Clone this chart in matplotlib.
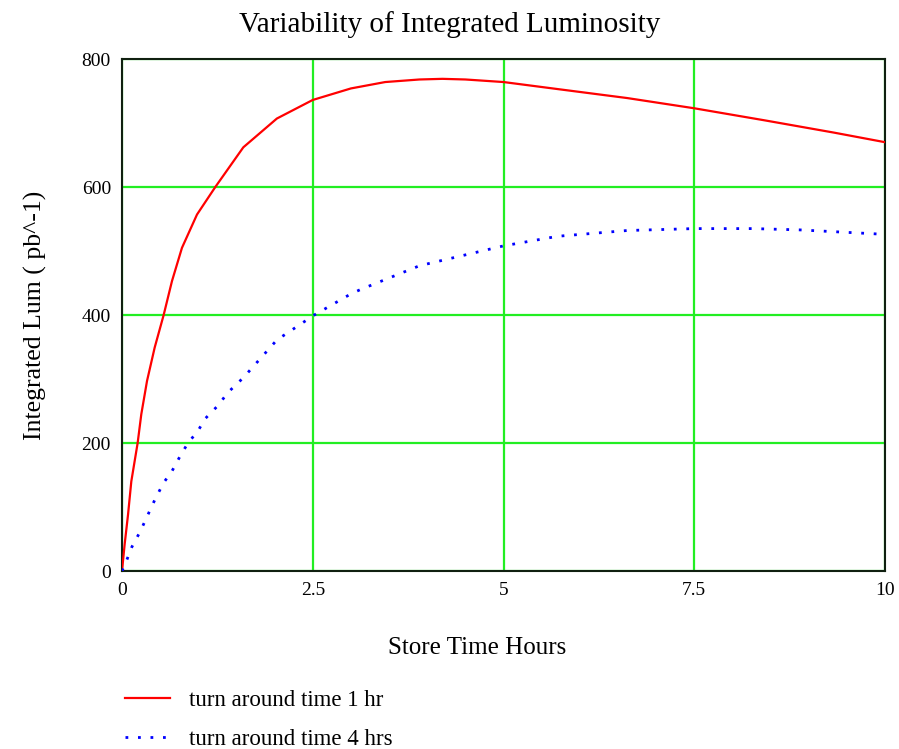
import matplotlib.pyplot as plt

# values
t_red = [0, 0.035, 0.079, 0.122, 0.205, 0.253, 0.328, 0.428, 0.546, 0.655, 0.786, 0.983, 1.223,
         1.59, 2.03, 2.5, 3.0, 3.45, 3.9, 4.2, 4.5, 5.0, 5.71, 6.62, 7.5, 8.43, 9.33, 10]
lum_red = [0, 42, 88, 140, 200, 245, 297, 349, 400, 453, 505, 557, 600,
           662, 707, 736, 754, 764, 768, 769, 768, 764, 753, 739, 723, 704, 685, 670]

t_blue = [0, 0.052, 0.131, 0.24, 0.34, 0.437, 0.546, 0.655, 0.764, 0.865, 0.996, 1.09, 1.27, 1.38,
          1.59, 2.03, 2.52, 3.0, 3.13, 3.9, 5.0, 5.71, 6.62, 7.5, 8.27, 8.88, 10]
lum_blue = [0, 14, 38, 62, 88, 113, 138, 156, 180, 200, 219, 238, 260, 278,
            302, 361, 400, 433, 440, 477, 508, 523, 532, 535, 535, 533, 526]

xticks = [0, 2.5, 5, 7.5, 10]
xticklabels = ['0', '2.5', '5', '7.5', '10']
yticks = [0, 200, 400, 600, 800]

plt.rcParams['font.family'] = ['Liberation Serif', 'DejaVu Serif']

fig = plt.figure(figsize=(8.99, 7.49), dpi=100)
ax = fig.add_axes([122/899, 1-571/749, 763/899, 512/749])

ax.plot(t_red, lum_red, color='red', lw=1.6, label='turn around time 1 hr', zorder=3)
ax.plot(t_blue, lum_blue, color='blue', lw=2, linestyle=(0, (1, 3.5)),
        label='turn around time 4 hrs', zorder=3)

ax.set_xlim(0, 10)
ax.set_ylim(0, 800)
ax.set_xticks(xticks)
ax.set_xticklabels(xticklabels)
ax.set_yticks(yticks)
ax.tick_params(length=0, labelsize=14, pad=8)
ax.grid(True, color='#22ee22', lw=1.6, zorder=1)
ax.set_axisbelow(True)
for s in ax.spines.values():
    s.set_color('#102010')
    s.set_linewidth(1.5)

fig.suptitle('Variability of Integrated Luminosity', x=0.5, y=1-11/749, va='top', fontsize=21)
ax.set_xlabel('Store Time Hours', fontsize=18)
ax.xaxis.set_label_coords((477-122)/763, -0.128)
ax.set_ylabel('Integrated Lum ( pb^-1)', fontsize=18.5)
ax.yaxis.set_label_coords(-0.098, 0.5)

fig.legend(loc='upper left', bbox_to_anchor=(118/899, 1-683/749), borderaxespad=0,
           frameon=False, fontsize=16.5, handlelength=1.95, handletextpad=0.85,
           labelspacing=0.78, borderpad=0.3)

fig.savefig('out.png', dpi=100)
